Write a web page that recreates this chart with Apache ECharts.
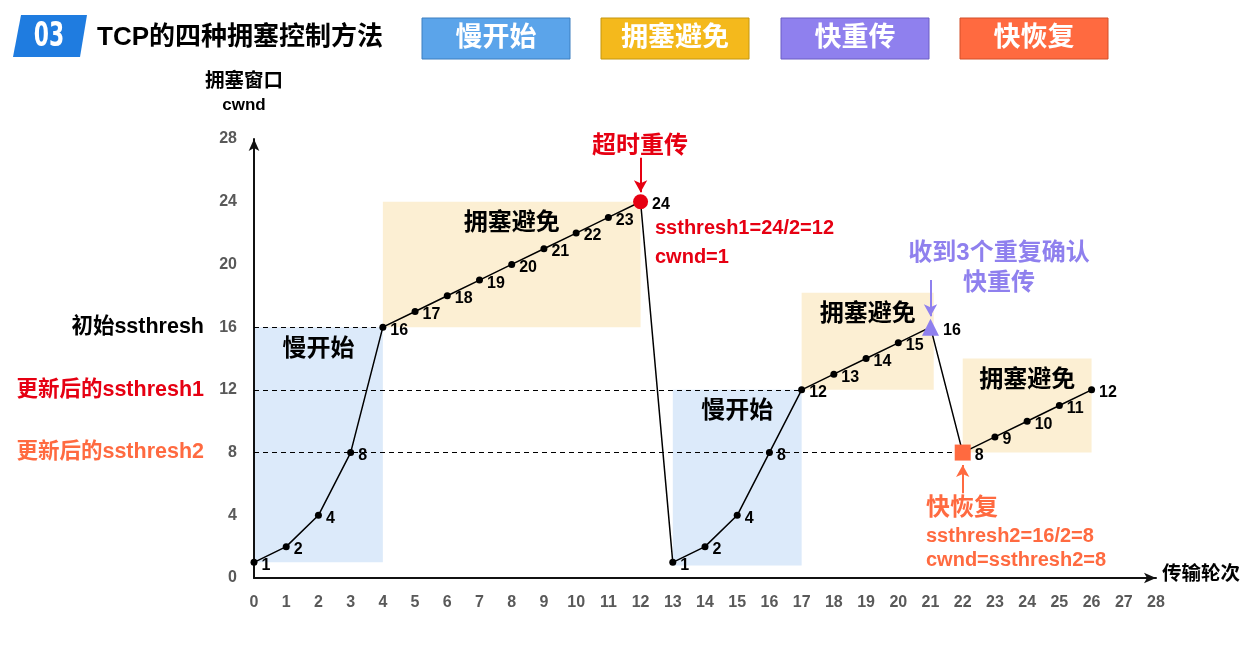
<!DOCTYPE html>
<html><head><meta charset="utf-8">
<script src="https://cdn.jsdelivr.net/npm/echarts@6/dist/echarts.min.js"></script>
<style>html,body{margin:0;padding:0;background:#fff}#c{width:1259px;height:648px}</style>
</head><body><div id="c"></div>
<script>
// ---- data ----
const rounds = [0,1,2,3,4,5,6,7,8,9,10,11,12,13,14,15,16,17,18,19,20,21,22,23,24,25,26];
const cwnd   = [1,2,4,8,16,17,18,19,20,21,22,23,24,1,2,4,8,12,13,14,15,16,8,9,10,11,12];
const timeoutIdx = 12, dupAckIdx = 21, fastRecIdx = 22;
const legendNames = ['慢开始','拥塞避免','快重传','快恢复'];
// shaded phases: [x0, y0, x1, y1, label]
const slowStartAreas = [[0,1,4,16,'慢开始'],[13,0.8,17,12,'慢开始']];
const avoidAreas = [[4,16,12,24,'拥塞避免'],[17,12,21.1,18.2,'拥塞避免'],[22,8,26,14,'拥塞避免']];
// threshold dashed lines: [y, xEnd, label]
const thresholds = [[16,4,'初始ssthresh'],[12,17,'更新后的ssthresh1'],[8,22,'更新后的ssthresh2']];
// arrows: [x, yFrom, yTo]
const arrows = [[12,26.8,24.6],[21,19.0,16.7],[22,5.4,7.2]];

const FONT = '"Liberation Sans","Noto Sans CJK SC",sans-serif';
const RED = '#e60012', ORANGE = '#ff6a40', PURPLE = '#8f80ee';
const thColors = ['#000', RED, ORANGE];
const arrowColors = [RED, PURPLE, ORANGE];

const chart = echarts.init(document.getElementById('c'));

const lineData = rounds.map((x,i)=>{
  const d = {value:[x,cwnd[i]]};
  if(i===timeoutIdx){ d.symbol='circle'; d.symbolSize=15; d.itemStyle={color:RED}; }
  if(i===dupAckIdx){ d.symbol='triangle'; d.symbolSize=17; d.itemStyle={color:PURPLE}; }
  if(i===fastRecIdx){ d.symbol='rect'; d.symbolSize=16; d.itemStyle={color:ORANGE}; }
  return d;
});

const markAreaData = [];
slowStartAreas.forEach(a=>markAreaData.push([{coord:[a[0],a[1]],itemStyle:{color:'#dceafa'},name:a[4]},{coord:[a[2],a[3]]}]));
avoidAreas.forEach(a=>markAreaData.push([{coord:[a[0],a[1]],itemStyle:{color:'#fcefd3'},name:a[4]},{coord:[a[2],a[3]]}]));

const markLineData = [];
thresholds.forEach((t,i)=>markLineData.push([
  {coord:[0,t[0]],lineStyle:{type:[5,4],color:'#000',width:1},symbol:'none',
   label:{show:true,position:'start',distance:50,padding:[6,0,0,0],formatter:t[2],color:thColors[i],fontSize:21.5,fontWeight:'bold',fontFamily:FONT}},
  {coord:[t[1],t[0]],symbol:'none'}
]));
arrows.forEach((a,i)=>markLineData.push([
  {coord:[a[0],a[1]],lineStyle:{type:'solid',color:arrowColors[i],width:2},symbol:'none',label:{show:false}},
  {coord:[a[0],a[2]],symbol:'arrow',symbolSize:[10,12]}
]));

const boxX = [422,601,781,960];
const boxColors = [['#5ba4ea','#3d7fc0'],['#f4b91c','#c4960f'],['#8f80ee','#6a5cc4'],['#ff6a40','#d24e28']];
const graphic = [
  {type:'polygon',shape:{points:[[21,15],[87,15],[80,57],[13,57]]},style:{fill:'#1f7ce0'}},
  {type:'text',x:49,y:37,scaleX:0.9,scaleY:1.25,style:{text:'03',fill:'#fff',font:'bold 27px "DejaVu Sans Condensed","Liberation Sans Narrow",sans-serif',textAlign:'center',textVerticalAlign:'middle'}},
  {type:'text',x:97,y:38,style:{text:'TCP的四种拥塞控制方法',fill:'#000',font:'bold 26px '+FONT,textVerticalAlign:'middle'}},
  {type:'text',x:244,y:82,style:{text:'拥塞窗口',fill:'#000',font:'bold 19.5px '+FONT,textAlign:'center',textVerticalAlign:'middle'}},
  {type:'text',x:244,y:105,style:{text:'cwnd',fill:'#000',font:'bold 17px '+FONT,textAlign:'center',textVerticalAlign:'middle'}},
  {type:'text',x:1162,y:575,style:{text:'传输轮次',fill:'#000',font:'bold 19.5px '+FONT,textVerticalAlign:'middle'}},
  {type:'text',x:640,y:146,style:{text:'超时重传',fill:RED,font:'bold 24px '+FONT,textAlign:'center',textVerticalAlign:'middle'}},
  {type:'text',x:655,y:228,style:{text:'ssthresh1=24/2=12',fill:RED,font:'bold 20px '+FONT,textVerticalAlign:'middle'}},
  {type:'text',x:655,y:257,style:{text:'cwnd=1',fill:RED,font:'bold 20px '+FONT,textVerticalAlign:'middle'}},
  {type:'text',x:999,y:253,style:{text:'收到3个重复确认',fill:PURPLE,font:'bold 24px '+FONT,textAlign:'center',textVerticalAlign:'middle'}},
  {type:'text',x:999,y:283,style:{text:'快重传',fill:PURPLE,font:'bold 24px '+FONT,textAlign:'center',textVerticalAlign:'middle'}},
  {type:'text',x:926,y:508,style:{text:'快恢复',fill:ORANGE,font:'bold 24px '+FONT,textVerticalAlign:'middle'}},
  {type:'text',x:926,y:536,style:{text:'ssthresh2=16/2=8',fill:ORANGE,font:'bold 20px '+FONT,textVerticalAlign:'middle'}},
  {type:'text',x:926,y:560,style:{text:'cwnd=ssthresh2=8',fill:ORANGE,font:'bold 20px '+FONT,textVerticalAlign:'middle'}}
];
legendNames.forEach((n,i)=>{
  graphic.push({type:'rect',shape:{x:boxX[i],y:18,width:148,height:41},style:{fill:boxColors[i][0],stroke:boxColors[i][1],lineWidth:1}});
  graphic.push({type:'text',x:boxX[i]+74,y:39,style:{text:n,fill:'#fff',font:'bold 27px '+FONT,textAlign:'center',textVerticalAlign:'middle'}});
});

chart.setOption({
  animation:false,
  grid:{left:254,right:103,top:139,bottom:70},
  xAxis:{type:'value',min:0,max:28,interval:1,
    axisLine:{show:true,lineStyle:{color:'#111',width:2},symbol:['none','arrow'],symbolSize:[8,12]},
    axisTick:{show:false},splitLine:{show:false},
    axisLabel:{color:'#595959',fontSize:16,fontWeight:'bold',fontFamily:FONT,margin:17}},
  yAxis:{type:'value',min:0,max:28,interval:4,
    axisLine:{show:true,lineStyle:{color:'#111',width:2},symbol:['none','arrow'],symbolSize:[8,12]},
    axisTick:{show:false},splitLine:{show:false},
    axisLabel:{color:'#595959',fontSize:16,fontWeight:'bold',fontFamily:FONT,margin:17}},
  graphic:graphic,
  series:[{
    type:'line',data:lineData,symbol:'circle',symbolSize:7,
    lineStyle:{color:'#000',width:1.5},itemStyle:{color:'#000'},
    label:{show:true,position:'right',distance:4,offset:[0,3],formatter:p=>p.value[1],
      color:'#000',fontSize:16,fontWeight:'bold',fontFamily:FONT},
    markArea:{silent:true,z:-1,
      label:{show:true,position:'insideTop',distance:10,color:'#000',fontSize:24,fontWeight:'bold',fontFamily:FONT},
      data:markAreaData},
    markLine:{silent:true,symbol:'none',animation:false,data:markLineData},
    z:5
  }]
});
</script></body></html>
